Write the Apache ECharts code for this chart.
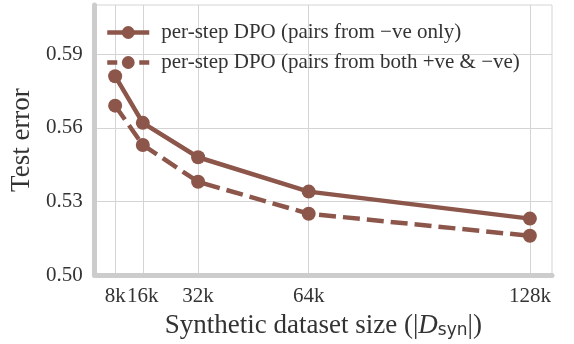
<!DOCTYPE html>
<html>
<head>
    <meta charset="utf-8">
    <script src="https://cdn.jsdelivr.net/npm/echarts@6/dist/echarts.min.js"></script>
</head>
<body style="margin:0">
<div id="main" style="width: 574px;height:344px;"></div>
<script type="text/javascript">
    // dataset sizes (thousands) and test error
    var sizes = [8, 16, 32, 64, 128];
    var sizeLabels = ['8k', '16k', '32k', '64k', '128k'];
    var negOnly = [0.581, 0.562, 0.548, 0.534, 0.523];
    var bothPairs = [0.569, 0.553, 0.538, 0.525, 0.516];
    var yTicks = [0.50, 0.53, 0.56, 0.59];

    var brown = '#8c564b';
    var serif = '"Liberation Serif", "DejaVu Serif", serif';
    var txt = '#333';
    var dash = [17, 7];
    var nameA = 'per-step DPO (pairs from \u2212ve only)';
    var nameB = 'per-step DPO (pairs from both +ve & \u2212ve)';

    function pairs(ys) {
        return sizes.map(function (x, i) { return [x, ys[i]]; });
    }

    var myChart = echarts.init(document.getElementById('main'));
    myChart.setOption({
        animation: false,
        color: [brown],
        grid: {
            left: 94, right: 22, top: 5, bottom: 68,
            show: true, borderColor: '#d4d4d4', borderWidth: 1
        },
        legend: {
            orient: 'vertical',
            left: 100, top: 17,
            itemWidth: 42, itemHeight: 16, itemGap: 9,
            lineStyle: {width: 4.5},
            textStyle: {fontFamily: serif, fontSize: 21, lineHeight: 20, color: txt, padding: [0, 0, 0, 7]},
            data: [
                {name: nameA, lineStyle: {width: 4.5, type: 'solid'}},
                {name: nameB, lineStyle: {width: 4.5, type: [10, 6]}}
            ]
        },
        xAxis: {
            type: 'value', min: 2.07, max: 134.4,
            name: 'Synthetic dataset size (|{it|D}{sub|syn}|)',
            nameLocation: 'middle', nameGap: 35,
            nameTextStyle: {
                fontFamily: serif, fontSize: 27, color: txt,
                rich: {
                    it: {fontFamily: serif, fontStyle: 'italic', fontSize: 27, color: txt},
                    sub: {fontFamily: '"DejaVu Sans", sans-serif', fontSize: 17, color: txt, verticalAlign: 'bottom', padding: [10, 0, 0, 0]}
                }
            },
            axisLine: {lineStyle: {color: '#cccccc', width: 5}},
            axisTick: {show: false, customValues: sizes},
            axisLabel: {
                customValues: sizes, margin: 11,
                fontFamily: serif, fontSize: 21, color: txt,
                formatter: function (v) { return sizeLabels[sizes.indexOf(v)]; }
            },
            splitLine: {show: true, lineStyle: {color: '#d4d4d4', width: 1}}
        },
        yAxis: {
            type: 'value', min: 0.50, max: 0.61,
            name: 'Test error', nameLocation: 'middle', nameGap: 47,
            nameTextStyle: {fontFamily: serif, fontSize: 27, color: txt},
            axisLine: {show: true, lineStyle: {color: '#cccccc', width: 5}},
            axisTick: {show: false, customValues: yTicks},
            axisLabel: {
                customValues: yTicks, margin: 12,
                fontFamily: serif, fontSize: 21, color: txt,
                formatter: function (v) { return v.toFixed(2); }
            },
            splitLine: {show: true, lineStyle: {color: '#d4d4d4', width: 1}}
        },
        series: [{
            name: nameA,
            type: 'line', data: pairs(negOnly),
            symbol: 'circle', symbolSize: 14,
            lineStyle: {width: 4.5, color: brown},
            itemStyle: {color: brown}
        }, {
            name: nameB,
            type: 'line', data: pairs(bothPairs),
            symbol: 'circle', symbolSize: 14,
            lineStyle: {width: 4.5, color: brown, type: dash},
            itemStyle: {color: brown}
        }]
    });
</script>
</body>
</html>
